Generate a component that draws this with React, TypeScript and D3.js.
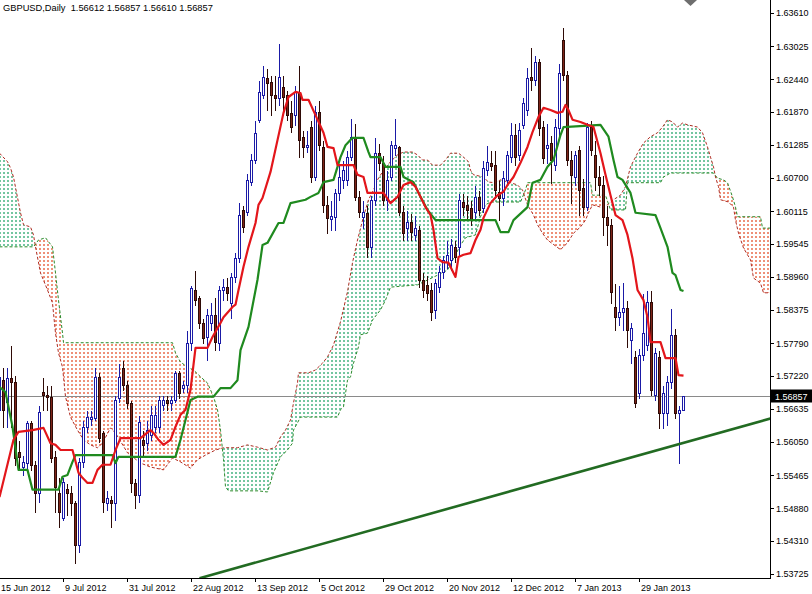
import React from 'react';
import * as d3 from 'd3';

const W = 812;
const H = 594;
const PLOT_R = 770;
const PLOT_B = 578;
const FONT = "'Liberation Sans', Arial, sans-serif";

const title = 'GBPUSD,Daily  1.56612 1.56857 1.56610 1.56857';
const lastPrice = 1.56857;

const priceTicks = [1.6361, 1.63025, 1.6244, 1.6187, 1.61285, 1.607, 1.60115, 1.59545, 1.5896, 1.58375, 1.5779, 1.5722, 1.56635, 1.5605, 1.55465, 1.5488, 1.5431, 1.53725];
const dateTickBars = [0, 16, 32, 48, 64, 80, 96, 112, 128, 144, 160];
const dateTickLabels = ['15 Jun 2012', '9 Jul 2012', '31 Jul 2012', '22 Aug 2012', '13 Sep 2012', '5 Oct 2012', '29 Oct 2012', '20 Nov 2012', '12 Dec 2012', '7 Jan 2013', '29 Jan 2013'];

const opens = [
  1.5662,1.5714,1.5676,1.5718,1.5711,1.5588,1.5561,1.5568,1.5639,1.5565,
  1.5515,1.5693,1.5688,1.5685,1.5579,1.5515,1.5471,1.5522,1.5515,1.5498,
  1.5424,1.5570,1.5632,1.5646,1.5648,1.5720,1.5621,1.5498,1.5503,1.5498,
  1.5683,1.5736,1.5706,1.5674,1.5533,1.5512,1.5609,1.5603,1.5618,1.5632,
  1.5632,1.5670,1.5679,1.5674,1.5679,1.5727,1.5700,1.5706,1.5780,1.5873,
  1.5859,1.5815,1.5790,1.5815,1.5829,1.5780,1.5873,1.5878,1.5850,1.5896,
  1.5929,1.6014,1.6010,1.6063,1.6102,1.6173,1.6217,1.6247,1.6240,1.6217,
  1.6211,1.6231,1.6217,1.6185,1.6181,1.6222,1.6143,1.6125,1.6160,1.6072,
  1.6187,1.6125,1.6023,1.5998,1.6002,1.6044,1.6067,1.6067,1.6107,1.6143,
  1.6037,1.6002,1.6009,1.5949,1.6032,1.6114,1.6097,1.6032,1.6072,1.6123,
  1.6125,1.6010,1.5982,1.5993,1.5970,1.5979,1.5891,1.5882,1.5873,1.5838,
  1.5878,1.5905,1.5922,1.5926,1.5949,1.5949,1.6028,1.6023,1.6018,1.6010,
  1.6037,1.6018,1.6084,1.6097,1.6093,1.6046,1.6035,1.6067,1.6107,1.6146,
  1.6111,1.6164,1.6190,1.6248,1.6243,1.6275,1.6160,1.6123,1.6132,1.6093,
  1.6158,1.6314,1.6252,1.6102,1.6072,1.6120,1.6053,1.6019,1.6160,1.6111,
  1.6072,1.6058,1.6002,1.5988,1.5843,1.5825,1.5834,1.5841,1.5785,1.5755,
  1.5692,1.5758,1.5776,1.5852,1.5688,1.5755,1.5656,1.5656,1.5711,1.5794,
  1.5656,1.56612,
];
const highs = [
  1.5732,1.5737,1.5737,1.5776,1.5723,1.5609,1.5582,1.5644,1.5644,1.5574,
  1.5670,1.5720,1.5706,1.5706,1.5591,1.5544,1.5544,1.5533,1.5529,1.5503,
  1.5579,1.5644,1.5662,1.5662,1.5737,1.5729,1.5626,1.5521,1.5512,1.5688,
  1.5744,1.5750,1.5714,1.5679,1.5542,1.5653,1.5626,1.5644,1.5670,1.5670,
  1.5688,1.5688,1.5688,1.5688,1.5732,1.5732,1.5714,1.5803,1.5882,1.5908,
  1.5864,1.5824,1.5841,1.5852,1.5861,1.5882,1.5894,1.5896,1.5905,1.5940,
  1.6028,1.6023,1.6079,1.6114,1.6173,1.6243,1.6270,1.6264,1.6252,1.6252,
  1.6308,1.6252,1.6225,1.6208,1.6234,1.6270,1.6155,1.6155,1.6173,1.6199,
  1.6208,1.6137,1.6040,1.6032,1.6053,1.6093,1.6102,1.6120,1.6176,1.6167,
  1.6049,1.6032,1.6023,1.6040,1.6143,1.6132,1.6111,1.6084,1.6137,1.6176,
  1.6128,1.6023,1.6014,1.6009,1.6005,1.5988,1.5905,1.5899,1.5887,1.5894,
  1.5917,1.5935,1.5961,1.5965,1.5961,1.6044,1.6044,1.6040,1.6032,1.6058,
  1.6049,1.6102,1.6128,1.6120,1.6120,1.6067,1.6084,1.6120,1.6169,1.6167,
  1.6169,1.6213,1.6266,1.6301,1.6287,1.6282,1.6173,1.6167,1.6146,1.6176,
  1.6273,1.6336,1.6261,1.6120,1.6120,1.6128,1.6070,1.6169,1.6173,1.6137,
  1.6093,1.6076,1.6023,1.6000,1.5885,1.5882,1.5887,1.5855,1.5817,1.5767,
  1.5771,1.5868,1.5873,1.5873,1.5773,1.5767,1.5706,1.5723,1.5841,1.5806,
  1.5670,1.56857,
];
const lows = [
  1.5644,1.5632,1.5632,1.5632,1.5565,1.5556,1.5547,1.5556,1.5556,1.5482,
  1.5500,1.5662,1.5662,1.5570,1.5482,1.5455,1.5468,1.5477,1.5477,1.5392,
  1.5411,1.5561,1.5623,1.5635,1.5644,1.5605,1.5482,1.5485,1.5455,1.5468,
  1.5676,1.5697,1.5665,1.5517,1.5489,1.5500,1.5582,1.5591,1.5609,1.5623,
  1.5623,1.5662,1.5662,1.5662,1.5676,1.5683,1.5693,1.5693,1.5767,1.5847,
  1.5806,1.5780,1.5750,1.5803,1.5767,1.5767,1.5855,1.5855,1.5824,1.5887,
  1.5922,1.5975,1.6005,1.6058,1.6097,1.6169,1.6211,1.6190,1.6181,1.6190,
  1.6199,1.6190,1.6173,1.6151,1.6164,1.6107,1.6107,1.6116,1.6063,1.6067,
  1.6120,1.6010,1.5973,1.5979,1.5979,1.6032,1.6053,1.6058,1.6102,1.6032,
  1.6002,1.5982,1.5931,1.5931,1.6023,1.6084,1.6023,1.6014,1.6067,1.6111,
  1.6005,1.5961,1.5961,1.5961,1.5961,1.5878,1.5861,1.5855,1.5820,1.5824,
  1.5870,1.5894,1.5912,1.5908,1.5922,1.5935,1.6005,1.5996,1.5988,1.6000,
  1.6005,1.6010,1.6076,1.6084,1.6035,1.5996,1.6023,1.6058,1.6099,1.6093,
  1.6102,1.6158,1.6181,1.6225,1.6234,1.6146,1.6097,1.6097,1.6062,1.6084,
  1.6146,1.6243,1.6093,1.6026,1.6058,1.6005,1.6005,1.6014,1.6111,1.6049,
  1.6040,1.5970,1.5952,1.5850,1.5803,1.5811,1.5803,1.5773,1.5744,1.5667,
  1.5683,1.5750,1.5767,1.5688,1.5679,1.5630,1.5630,1.5635,1.5700,1.5648,
  1.5568,1.56610,
];
const closes = [
  1.5720,1.5662,1.5718,1.5711,1.5577,1.5579,1.5570,1.5639,1.5565,1.5515,
  1.5658,1.5688,1.5685,1.5577,1.5526,1.5482,1.5535,1.5515,1.5498,1.5424,
  1.5570,1.5632,1.5649,1.5649,1.5720,1.5612,1.5500,1.5507,1.5498,1.5679,
  1.5720,1.5706,1.5674,1.5533,1.5512,1.5640,1.5600,1.5626,1.5653,1.5653,
  1.5679,1.5679,1.5674,1.5679,1.5727,1.5692,1.5706,1.5780,1.5877,1.5855,
  1.5815,1.5788,1.5829,1.5829,1.5781,1.5873,1.5878,1.5868,1.5896,1.5929,
  1.6005,1.5984,1.6067,1.6102,1.6150,1.6222,1.6248,1.6238,1.6217,1.6211,
  1.6248,1.6213,1.6181,1.6160,1.6222,1.6137,1.6125,1.6128,1.6072,1.6187,
  1.6128,1.6023,1.6000,1.6003,1.6044,1.6072,1.6084,1.6107,1.6143,1.6037,
  1.6010,1.6010,1.5949,1.6032,1.6114,1.6097,1.6032,1.6067,1.6128,1.6128,
  1.6010,1.5973,1.5993,1.5975,1.5982,1.5891,1.5873,1.5868,1.5834,1.5885,
  1.5905,1.5926,1.5935,1.5952,1.5931,1.6032,1.6019,1.6014,1.5996,1.6037,
  1.6014,1.6088,1.6099,1.6092,1.6049,1.6035,1.6070,1.6111,1.6146,1.6107,
  1.6155,1.6203,1.6247,1.6243,1.6275,1.6158,1.6106,1.6128,1.6102,1.6160,
  1.6255,1.6252,1.6102,1.6076,1.6111,1.6049,1.6019,1.6160,1.6120,1.6072,
  1.6058,1.6002,1.5988,1.5870,1.5825,1.5834,1.5841,1.5803,1.5806,1.5674,
  1.5758,1.5797,1.5852,1.5697,1.5762,1.5656,1.5692,1.5711,1.5794,1.5656,
  1.5662,1.56857,
];

// Ichimoku lines: [bar index, price] vertices
const tenkan: [number, number][] = [
  [0,1.5508],[3.5,1.5609],[4.75,1.5623],[8.25,1.5626],[11,1.5630],[12.75,1.5603],[14,1.5600],[15.25,1.5591],
  [18.25,1.5591],[19.75,1.5551],[20.75,1.5542],[22,1.5533],[23.25,1.5533],[24.5,1.5556],[25.75,1.5565],[27.75,1.5565],
  [29,1.5591],[30.25,1.5612],[35.25,1.5612],[37.75,1.5626],[38.5,1.5621],[39.75,1.5609],[41,1.5600],[42.75,1.5609],
  [44,1.5632],[45.25,1.5653],[46.5,1.5662],[47.75,1.5697],[49,1.5771],[52,1.5771],[53.25,1.5790],[55.25,1.5815],
  [56,1.5825],[58.25,1.5843],[59,1.5847],[59.75,1.5873],[61,1.5914],[62.25,1.5949],[64,1.5991],[64.75,1.6023],
  [65.75,1.6035],[67.75,1.6081],[69.5,1.6137],[71,1.6185],[72.25,1.6213],[74,1.6222],[75.25,1.6220],[75.75,1.6208],
  [77.25,1.6208],[79,1.6181],[81,1.6150],[82,1.6125],[83.5,1.6123],[84.5,1.6093],[88.5,1.6093],[89.5,1.6076],
  [91,1.6072],[92,1.6044],[96,1.6044],[97.75,1.6026],[99.5,1.6037],[101,1.6058],[102.75,1.6063],[104,1.6055],
  [105.25,1.6037],[106.5,1.6019],[107.75,1.6005],[108.5,1.5979],[109.5,1.5929],[110.75,1.5922],[112.25,1.5921],[114,1.5896],
  [114.75,1.5931],[116,1.5935],[117.75,1.5938],[119,1.5961],[120.25,1.5979],[121,1.6000],[122.75,1.6026],[124.5,1.6040],
  [126,1.6046],[127,1.6058],[128.5,1.6072],[130.25,1.6097],[132,1.6125],[133.25,1.6151],[134.75,1.6178],[136,1.6194],
  [137.75,1.6190],[139.5,1.6185],[140.75,1.6187],[141.5,1.6199],[142.25,1.6190],[143.25,1.6173],[145.25,1.6169],[147,1.6164],
  [148.5,1.6160],[150.25,1.6114],[151.5,1.6076],[152.75,1.6040],[154,1.6005],[155.75,1.5996],[157,1.5970],[158.25,1.5929],
  [159.5,1.5873],[161,1.5855],[162,1.5825],[162.75,1.5781],[165.25,1.5781],[166.5,1.5753],[169,1.5753],[169.75,1.5723],
  [171,1.5722],
];
const kijun: [number, number][] = [
  [0,1.5702],[1.5,1.5693],[3.25,1.5632],[4.75,1.5556],[7,1.5556],[8.25,1.5521],[14.75,1.5521],[15.75,1.5544],
  [17,1.5547],[18.25,1.5570],[19,1.5582],[28.25,1.5582],[29,1.5568],[29.75,1.5579],[44,1.5579],[45.25,1.5609],
  [46.5,1.5644],[47.75,1.5679],[49.5,1.5685],[53.5,1.5685],[55.25,1.5700],[57.75,1.5700],[59.5,1.5714],[60.25,1.5767],
  [62.25,1.5808],[64.5,1.5891],[65.75,1.5952],[67,1.5956],[69.75,1.5991],[71,1.5991],[72.75,1.6026],[76.5,1.6032],
  [77.75,1.6037],[79.75,1.6044],[81,1.6063],[83.5,1.6067],[85.25,1.6107],[86.5,1.6128],[88.25,1.6141],[91,1.6141],
  [92.25,1.6116],[92.75,1.6107],[95.25,1.6107],[96.5,1.6090],[100.25,1.6090],[101,1.6072],[103.5,1.6063],[105.25,1.6037],
  [107,1.6014],[109,1.5996],[124,1.5996],[125.25,1.5975],[127.25,1.5975],[128.5,1.5996],[132,1.6019],[133.25,1.6062],
  [135.25,1.6067],[137,1.6090],[138.5,1.6102],[140.25,1.6146],[141,1.6160],[150.25,1.6164],[152.25,1.6143],[153.5,1.6102],
  [154.5,1.6072],[155.75,1.6067],[157.75,1.6044],[159,1.6009],[164,1.6005],[165.25,1.5982],[167,1.5949],[168.25,1.5903],
  [169,1.5899],[170.25,1.5873],[171,1.5871],
];
const spanA: [number, number][] = [
  [0,1.6114],[2,1.6099],[2.75,1.6088],[3.5,1.6072],[5.25,1.6009],[6,1.5988],[7.75,1.5984],[8.5,1.5970],
  [9,1.5949],[10.25,1.5903],[12,1.5873],[13.25,1.5850],[14,1.5797],[14.75,1.5762],[15.75,1.5737],[16.5,1.5685],
  [17.75,1.5649],[19.5,1.5626],[21,1.5609],[22.75,1.5600],[24.5,1.5595],[25.75,1.5603],[27.75,1.5630],[29,1.5621],
  [32,1.5586],[35.25,1.5568],[37.75,1.5561],[41,1.5556],[43.25,1.5577],[45.25,1.5570],[47.75,1.5559],[49.5,1.5574],
  [51.5,1.5582],[54,1.5591],[56,1.5595],[59.5,1.5595],[62,1.5600],[64.5,1.5596],[67,1.5591],[69,1.5596],
  [70.25,1.5614],[71.5,1.5626],[72.75,1.5644],[73.5,1.5674],[74.5,1.5709],[74.75,1.5727],[77.25,1.5727],[79,1.5732],
  [80.75,1.5744],[82,1.5755],[83.5,1.5776],[85.25,1.5817],[87,1.5870],[88.25,1.5921],[89.5,1.5961],[91,1.6002],
  [92.25,1.6032],[93.5,1.6049],[94.5,1.6067],[96,1.6084],[97.75,1.6099],[99.5,1.6111],[101,1.6116],[103.25,1.6116],
  [104.5,1.6111],[105.75,1.6102],[107,1.6102],[108.25,1.6093],[110.25,1.6093],[111.5,1.6102],[112.75,1.6114],[114.75,1.6114],
  [116,1.6107],[117.25,1.6099],[117.75,1.6084],[118.5,1.6076],[121,1.6072],[122.25,1.6063],[124,1.6062],[125.25,1.6067],
  [127.75,1.6062],[129.5,1.6058],[130.75,1.6049],[132,1.6023],[133.5,1.6005],[134.5,1.5988],[135.75,1.5973],[137,1.5961],
  [140.25,1.5944],[142,1.5956],[143.5,1.5973],[145.25,1.5984],[146.5,1.5996],[147.25,1.6009],[148.25,1.6023],[150.25,1.6019],
  [152,1.6023],[153.5,1.6032],[155.25,1.6040],[156.5,1.6055],[157.75,1.6090],[159.5,1.6114],[161,1.6132],[162.75,1.6143],
  [164.5,1.6150],[165.75,1.6160],[167,1.6173],[168.25,1.6169],[169.5,1.6160],[170.75,1.6167],[172,1.6164],[174.5,1.6160],
  [175.75,1.6150],[177,1.6125],[177.75,1.6107],[178.5,1.6090],[179,1.6072],[179.75,1.6055],[180.25,1.6032],[182.25,1.6028],
  [183.5,1.6019],[184,1.5996],[184.75,1.5973],[186,1.5947],[187.75,1.5926],[188.5,1.5894],[190.25,1.5885],[191,1.5868],
  [193,1.5868],
];
const spanB: [number, number][] = [
  [0,1.5949],[8.5,1.5949],[9.75,1.5961],[11.5,1.5965],[12.25,1.5958],[13.25,1.5949],[14,1.5903],[14.75,1.5855],
  [15.75,1.5797],[16,1.5780],[43.25,1.5780],[44,1.5762],[45.25,1.5746],[47,1.5737],[48.5,1.5732],[50.25,1.5720],
  [52,1.5709],[53.5,1.5685],[54.5,1.5662],[55.25,1.5626],[56,1.5574],[56.5,1.5526],[57.25,1.5519],[64.75,1.5519],
  [67,1.5517],[68.5,1.5551],[70.25,1.5579],[72,1.5591],[73.25,1.5603],[73.5,1.5626],[74.5,1.5639],[75.25,1.5649],
  [84.5,1.5649],[85.25,1.5662],[86,1.5667],[87,1.5714],[87.75,1.5720],[88.5,1.5744],[89.75,1.5773],[90.25,1.5794],
  [92,1.5797],[93.25,1.5820],[95.25,1.5838],[96.5,1.5855],[97.75,1.5878],[104.5,1.5882],[109.5,1.5899],[112,1.5908],
  [114,1.5935],[115.25,1.5952],[116.5,1.5965],[119,1.5970],[120.25,1.6002],[121.5,1.6023],[122.75,1.6028],[130.25,1.6028],
  [131.5,1.6049],[132,1.6062],[147.75,1.6062],[148.25,1.6040],[151.5,1.6040],[152.75,1.6014],[156.5,1.6014],[157,1.6062],
  [165.25,1.6062],[166,1.6072],[167.75,1.6079],[178.5,1.6079],[179.5,1.6070],[181,1.6067],[182,1.6062],[183.25,1.6037],
  [184,1.6019],[184.5,1.6002],[190.25,1.6002],[190.75,1.5982],[193,1.5982],
];
const trendline: [number, number][] = [[50, 1.5365], [193, 1.5647]];

const BULL = '#1a1aa6';
const BEAR_FILL = '#7e2418';
const BEAR_LINE = '#2e0a06';
const TENKAN = '#e3161b';
const KIJUN = '#1f8a1f';
const SPAN_A = '#b02c22';
const SPAN_B = '#2a8a2a';
const HATCH_G = '#74c6a0';
const HATCH_R = '#ee9078';

export default function App() {
  const x = d3.scaleLinear().domain([0, 1]).range([-0.5, 3.5]);
  const y = d3.scaleLinear().domain([1.53725, 1.6361]).range([574, 13]);
  const line = d3.line<[number, number]>().x(d => x(d[0])).y(d => y(d[1]));
  const below = d3.area<[number, number]>().x(d => x(d[0])).y0(700).y1(d => y(d[1]));
  const above = d3.area<[number, number]>().x(d => x(d[0])).y0(-100).y1(d => y(d[1]));
  const yLast = Math.round(y(lastPrice)) + 0.5;
  const cloudBars = d3.range(0, 194);

  const hatch = (color: string) => (
    <g>
      {cloudBars.map(b => (
        <rect key={b} x={x(b) - 0.5} y={0} width={2} height={PLOT_B} fill={color} />
      ))}
    </g>
  );

  return (
    <svg width={W} height={H} viewBox={`0 0 ${W} ${H}`}
      style={{ position: 'fixed', left: 0, top: 0, display: 'block', background: '#fff' }}>
      <defs>
        <clipPath id="plot"><rect x={0} y={0} width={PLOT_R} height={PLOT_B} /></clipPath>
        <clipPath id="belowA"><path d={below(spanA) || ''} /></clipPath>
        <clipPath id="aboveA"><path d={above(spanA) || ''} /></clipPath>
        <clipPath id="belowB"><path d={below(spanB) || ''} /></clipPath>
        <clipPath id="aboveB"><path d={above(spanB) || ''} /></clipPath>
      </defs>

      <rect x={0} y={0} width={W} height={H} fill="#fff" />

      <g clipPath="url(#plot)">
        {/* Kumo hatching */}
        <g clipPath="url(#aboveB)">
          <g clipPath="url(#belowA)">{hatch(HATCH_G)}</g>
        </g>
        <g clipPath="url(#aboveA)">
          <g clipPath="url(#belowB)">{hatch(HATCH_R)}</g>
        </g>
        {/* white gaps make the hatching dashed */}
        <g>
          {d3.range(0, PLOT_B, 4).map(r => (
            <rect key={r} x={0} y={r + 2} width={PLOT_R} height={2} fill="#fff" />
          ))}
        </g>
        <path d={line(spanA) || ''} fill="none" stroke={SPAN_A} strokeWidth={1} strokeDasharray="3,2" />
        <path d={line(spanB) || ''} fill="none" stroke={SPAN_B} strokeWidth={1} strokeDasharray="3,2" />

        {/* bid line */}
        <line x1={0} x2={PLOT_R} y1={yLast} y2={yLast} stroke="#8a8a8a" strokeWidth={1} />

        {/* candles */}
        <g shapeRendering="crispEdges">
          {opens.map((o, i) => {
            const c = closes[i];
            const bull = c >= o;
            const cx = x(i);
            const top = Math.round(y(Math.max(o, c))) + 0.5;
            const bot = Math.max(top + 1, Math.round(y(Math.min(o, c))) + 0.5);
            const hy = Math.round(y(highs[i])) + 0.5;
            const ly = Math.round(y(lows[i])) + 0.5;
            const col = bull ? BULL : BEAR_LINE;
            return (
              <g key={i}>
                <line x1={cx} x2={cx} y1={hy} y2={ly} stroke={col} strokeWidth={1} />
                <rect x={cx - 1} y={top} width={2} height={bot - top}
                  fill={bull ? '#ffffff' : BEAR_FILL} stroke={col} strokeWidth={1} />
              </g>
            );
          })}
        </g>

        {/* Tenkan / Kijun */}
        <path d={line(kijun) || ''} fill="none" stroke={KIJUN} strokeWidth={2.2} strokeLinejoin="round" />
        <path d={line(tenkan) || ''} fill="none" stroke={TENKAN} strokeWidth={2.2} strokeLinejoin="round" />

        {/* trendline */}
        <path d={line(trendline) || ''} fill="none" stroke="#226b22" strokeWidth={2.6} />

        {/* chart shift marker */}
        <path d="M684,0 L697,0 L690.5,6 Z" fill="#6e6e6e" />
      </g>

      {/* axes */}
      <g shapeRendering="crispEdges">
        <line x1={PLOT_R + 0.5} x2={PLOT_R + 0.5} y1={0} y2={PLOT_B + 1} stroke="#000" strokeWidth={1} />
        <line x1={0} x2={PLOT_R + 1} y1={PLOT_B + 0.5} y2={PLOT_B + 0.5} stroke="#000" strokeWidth={1} />
        {priceTicks.map((p, k) => (
          <line key={k} x1={PLOT_R + 1} x2={PLOT_R + 4} y1={Math.round(y(p)) + 0.5} y2={Math.round(y(p)) + 0.5} stroke="#000" />
        ))}
        {dateTickBars.map((b, k) => (
          <line key={k} x1={Math.round(x(b)) - 0.5} x2={Math.round(x(b)) - 0.5} y1={PLOT_B} y2={PLOT_B + 4} stroke="#000" />
        ))}
      </g>
      <g fontFamily={FONT} fontSize={9} fill="#000">
        {priceTicks.map((p, k) => (
          <text key={k} x={776} y={y(p) + 3.3}>{p.toFixed(5)}</text>
        ))}
        {dateTickBars.map((b, k) => (
          <text key={k} x={x(b) + 1.5} y={591}>{dateTickLabels[k]}</text>
        ))}
      </g>

      {/* last price label */}
      <rect x={771} y={yLast - 7} width={41} height={13} fill="#000" />
      <text x={775} y={yLast + 3} fontFamily={FONT} fontSize={9} fill="#fff">{lastPrice.toFixed(5)}</text>

      {/* title */}
      <text x={3} y={11} fontFamily={FONT} fontSize={9.3} fill="#000" style={{ whiteSpace: 'pre' }}>{title}</text>
    </svg>
  );
}
